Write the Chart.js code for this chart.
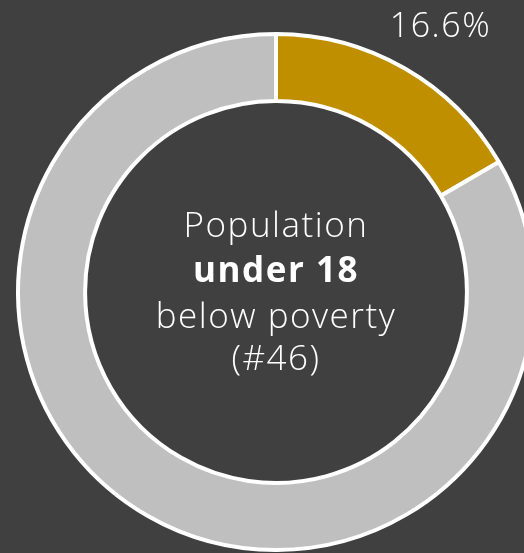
<!DOCTYPE html>
<html><head><meta charset="utf-8">
<script src="https://cdn.jsdelivr.net/npm/chart.js@4/dist/chart.umd.min.js"></script>
<style>
html,body{margin:0;padding:0;background:#404040;overflow:hidden;width:524px;height:553px;}
#wrap{position:absolute;left:0;top:0;width:552px;height:584px;}
</style></head><body>
<div id="wrap"><canvas id="c"></canvas></div>
<script>
const categories = ["Below poverty", "Other"];
const values = [16.6, 83.4];
const valueLabels = ["16.6%", ""];
const centerLines = [
  {text: "Population", bold: false},
  {text: "under 18", bold: true},
  {text: "below poverty", bold: false},
  {text: "(#46)", bold: false}
];
const FONT = "'Open Sans', Lato, sans-serif";

const labelPlugin = {
  id: 'labels',
  afterDraw(chart) {
    const ctx = chart.ctx;
    const meta = chart.getDatasetMeta(0);
    ctx.save();
    ctx.fillStyle = '#ffffff';
    ctx.textAlign = 'center';
    ctx.textBaseline = 'middle';
    try { ctx.letterSpacing = '1.5px'; } catch (e) {}
    meta.data.forEach((arc, i) => {
      if (!valueLabels[i]) return;
      const p = arc.getProps(['x','y','startAngle','endAngle','outerRadius'], true);
      const mid = (p.startAngle + p.endAngle) / 2;
      const r = p.outerRadius + 52;
      ctx.font = "300 34px " + FONT;
      ctx.fillText(valueLabels[i], p.x + Math.cos(mid) * r + 10, p.y + Math.sin(mid) * r + 4);
    });
    const a = meta.data[0];
    const cx = a.x, cy = a.y;
    ctx.textBaseline = 'alphabetic';
    const baselines = [-55, -10, 36, 78];
    centerLines.forEach((l, i) => {
      ctx.font = (l.bold ? "bold " : "300 ") + "35px " + FONT;
      ctx.fillText(l.text, cx, cy + baselines[i]);
    });
    ctx.restore();
  }
};

new Chart(document.getElementById('c'), {
  type: 'doughnut',
  data: {
    labels: categories,
    datasets: [{
      data: values,
      backgroundColor: ['#bf8f00', '#bfbfbf'],
      borderColor: '#ffffff',
      borderWidth: 4
    }]
  },
  options: {
    responsive: true,
    maintainAspectRatio: false,
    animation: false,
    cutout: '74%',
    layout: {padding: {left: 16, right: 16, top: 32, bottom: 32}},
    plugins: {legend: {display: false}, tooltip: {enabled: false}}
  },
  plugins: [labelPlugin]
});
</script>
</body></html>
